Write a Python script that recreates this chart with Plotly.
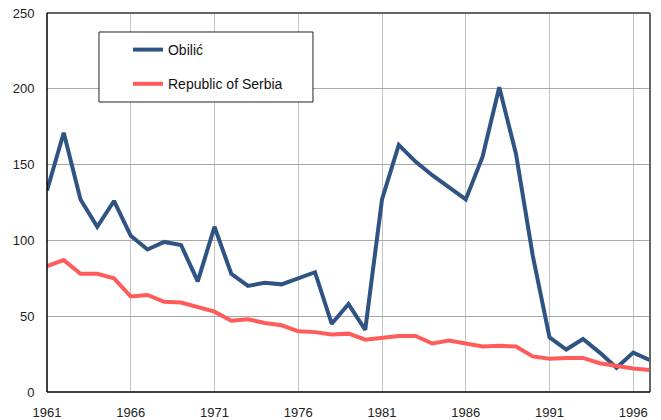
import plotly.graph_objects as go

years = list(range(1961, 1998))
obilic = [133, 171, 127, 109, 126, 103, 94, 99, 97, 73, 109, 78, 70, 72, 71, 75, 79, 45, 58, 41,
          127, 163, 152, 143, 135, 127, 155, 201, 157, 90, 36, 28, 35, 26, 16, 26, 21]
serbia = [83, 87, 78, 78, 75, 63, 64, 59.5, 59, 56, 53, 47, 48, 45.5, 44, 40, 39.5, 38, 38.5, 34.5,
          35.5, 37, 37, 32, 34, 32, 30, 30.5, 30, 23.5, 22, 22.5, 22.5, 19, 17, 15.5, 14.5]
x_ticks = [1961, 1966, 1971, 1976, 1981, 1986, 1991, 1996]
y_ticks = [0, 50, 100, 150, 200, 250]

fig = go.Figure()
fig.add_trace(go.Scatter(x=years, y=obilic, mode="lines", name="Obilić",
                         line=dict(color="#2F5383", width=4), legendgroup="a"))
fig.add_trace(go.Scatter(x=years, y=serbia, mode="lines", name="Republic of Serbia",
                         line=dict(color="#FF5B5B", width=4), legendgroup="b"))

font = dict(family="Liberation Sans, Arial, sans-serif", size=13, color="#222222")
fig.update_layout(
    width=661, height=420,
    margin=dict(l=47, r=11, t=13, b=28, autoexpand=False),
    paper_bgcolor="white", plot_bgcolor="white",
    font=font,
    showlegend=True,
    legend=dict(x=0.1343, y=0.9446, xanchor="left", yanchor="top",
                borderwidth=0, bgcolor="rgba(0,0,0,0)",
                font=dict(family="Liberation Sans, Arial, sans-serif", size=14, color="#111111"),
                tracegroupgap=13, itemwidth=30),
    xaxis=dict(range=[1961, 1997], tickvals=x_ticks, ticktext=[str(v) for v in x_ticks],
               showgrid=True, gridcolor="#C4C4C4", gridwidth=1, automargin=False,
               showline=False, zeroline=False, ticks="outside", ticklen=8,
               tickcolor="rgba(0,0,0,0)"),
    yaxis=dict(range=[0, 250], tickvals=y_ticks, automargin=False,
               showgrid=True, gridcolor="#A8A8A8", gridwidth=1,
               showline=False, zeroline=False, ticks="outside", ticklen=9,
               tickcolor="rgba(0,0,0,0)"),
)
# legend frame
fig.add_shape(type="rect", xref="paper", yref="paper", x0=0.0862, x1=0.4411, y0=0.7652, y1=0.9499,
              line=dict(color="#222222", width=1), fillcolor="white", layer="above")
# plot-area frame: dark gray top/right, black left/bottom
fig.add_shape(type="line", xref="paper", yref="paper", x0=0, x1=1, y0=1, y1=1,
              line=dict(color="#666666", width=2))
fig.add_shape(type="line", xref="paper", yref="paper", x0=1, x1=1, y0=0, y1=1,
              line=dict(color="#666666", width=2))
fig.add_shape(type="line", xref="paper", yref="paper", x0=0, x1=0, y0=0, y1=1,
              line=dict(color="#000000", width=1.5))
fig.add_shape(type="line", xref="paper", yref="paper", x0=0, x1=1, y0=0, y1=0,
              line=dict(color="#000000", width=1.5))

fig.write_html("out.html", config={"displayModeBar": False},
               post_script="document.body.style.margin='0';document.body.style.overflow='hidden';")
